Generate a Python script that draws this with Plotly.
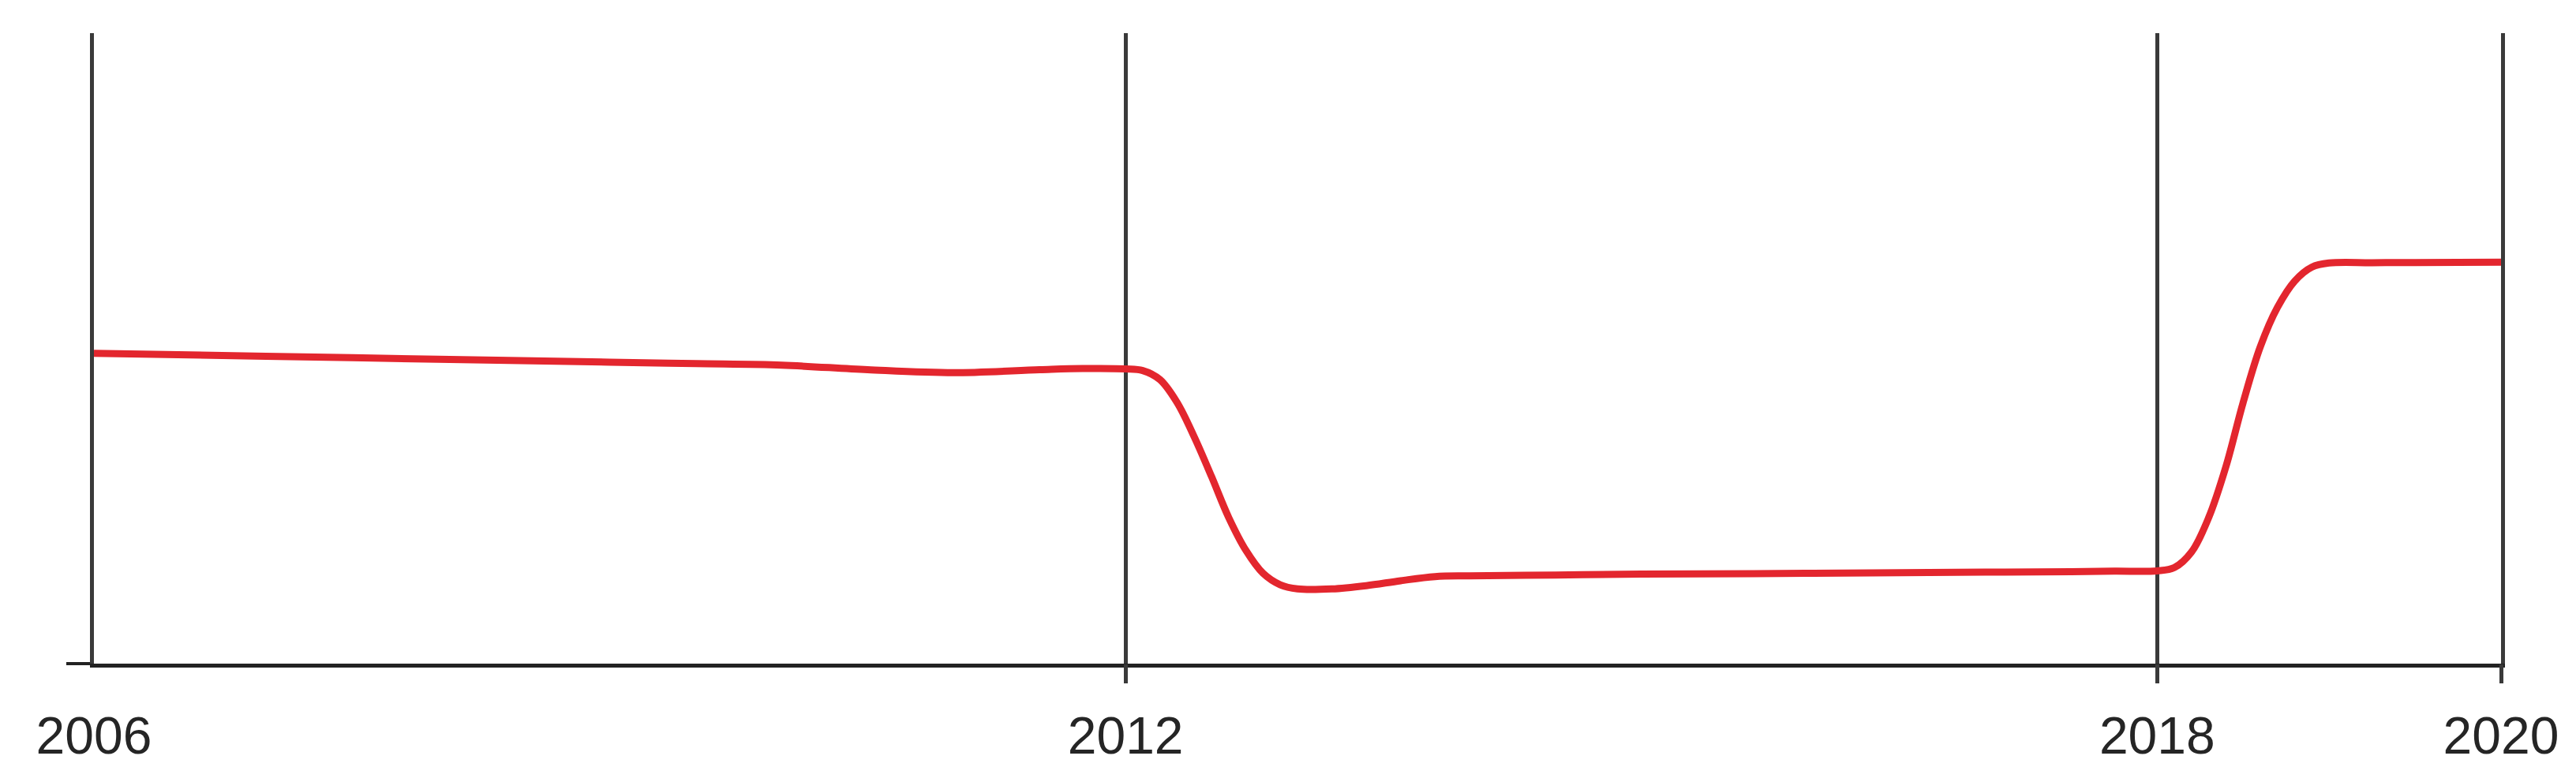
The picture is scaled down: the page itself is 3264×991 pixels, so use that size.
import plotly.graph_objects as go

# curve (decimal years)
years = [2006, 2007, 2008, 2009, 2009.5, 2010, 2010.5, 2011, 2011.5, 2011.75,
         2012, 2012.1, 2012.2, 2012.3, 2012.4, 2012.5, 2012.6, 2012.7, 2012.8, 2012.9,
         2013, 2013.2, 2013.4, 2013.6, 2013.8, 2014, 2014.5, 2015, 2016, 2017,
         2017.5, 2017.75, 2018, 2018.1, 2018.2, 2018.3, 2018.4, 2018.5, 2018.6, 2018.7,
         2018.8, 2018.9, 2019, 2019.25, 2019.5, 2020]
values = [189, 187.2, 185.4, 183.6, 182.7, 181.8, 179, 177.2, 179, 179.7,
          179.5, 178.5, 173, 159, 138, 114, 89, 69, 55, 48,
          45.5, 45.5, 47.5, 50.5, 53, 53.5, 54, 54.5, 55, 55.7,
          56, 56.3, 56.5, 58.5, 68, 89, 120, 159, 193, 217,
          233, 241.5, 244, 244.2, 244.3, 244.5]

label_years = [2006, 2012, 2018, 2020]
tick_years = [2012, 2018, 2020]

fig = go.Figure()

fig.add_trace(go.Scatter(
    x=years, y=values,
    mode='lines',
    line=dict(color='#e3262e', width=9, shape='spline', smoothing=1, simplify=False),
    showlegend=False, hoverinfo='skip',
))
# empty trace so the tick-only axis gets drawn
fig.add_trace(go.Scatter(x=tick_years, y=[None] * len(tick_years), xaxis='x2',
                         mode='lines', showlegend=False, hoverinfo='skip'))

# page body has an 8px margin, so the figure is shifted by that much
fig.update_layout(
    width=3256, height=983,
    margin=dict(l=111, r=95, t=34, b=150),
    paper_bgcolor='white', plot_bgcolor='white',
    font=dict(family='Liberation Sans, Arial', size=66, color='#252525'),
    xaxis=dict(
        range=[2006, 2020],
        tickvals=label_years,
        ticktext=[str(y) for y in label_years],
        showgrid=True, gridcolor='#3a3a3a', gridwidth=5,
        showline=True, linecolor='#222222', linewidth=5,
        ticks='', zeroline=False, automargin=False,
        ticklabelstandoff=30,
    ),
    xaxis2=dict(
        range=[2006, 2020],
        overlaying='x', side='bottom', anchor='y',
        tickvals=tick_years,
        showticklabels=False,
        ticks='outside', ticklen=24, tickwidth=5, tickcolor='#3a3a3a',
        showgrid=False, showline=False, zeroline=False, automargin=False,
    ),
    yaxis=dict(
        range=[0, 384],
        tickvals=[0],
        showticklabels=False,
        ticks='outside', ticklen=30, tickwidth=4, tickcolor='#222222',
        showgrid=False, showline=True, mirror=True,
        linecolor='#3a3a3a', linewidth=5,
        zeroline=False, automargin=False,
    ),
)

fig.write_html("out.html")
